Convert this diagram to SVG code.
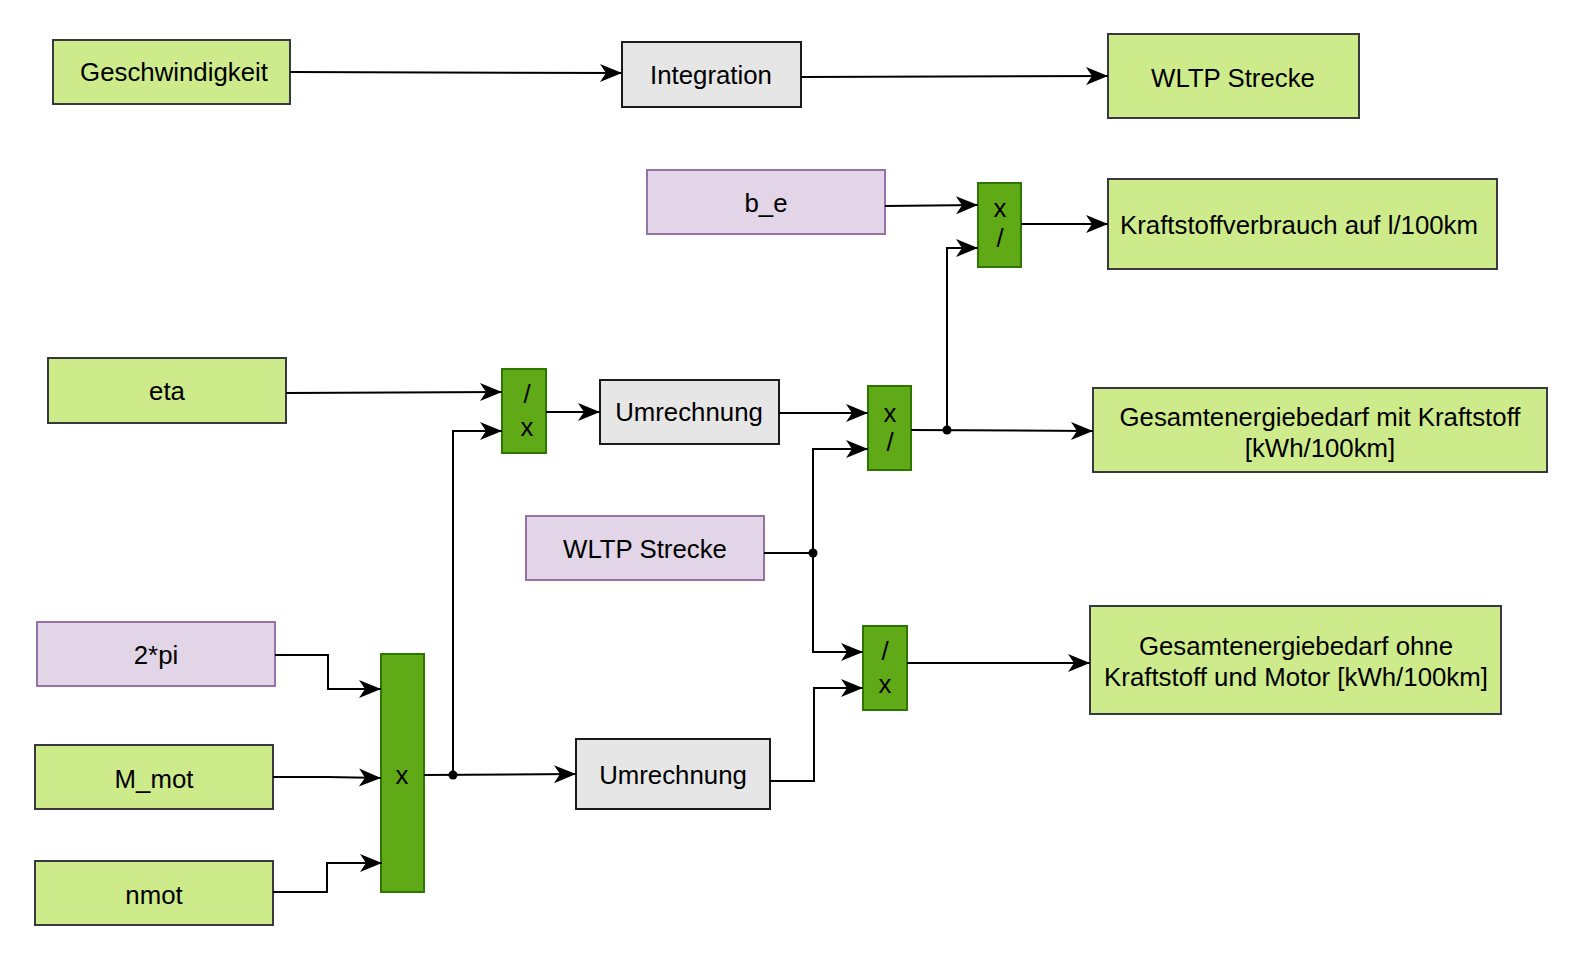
<svg xmlns="http://www.w3.org/2000/svg" width="1586" height="972" viewBox="0 0 1586 972">
<style>
.g{fill:#cdeb8b;stroke:#36393d;stroke-width:2}
.p{fill:#e1d5e7;stroke:#9673a6;stroke-width:2}
.w{fill:#e6e6e6;stroke:#1a1a1a;stroke-width:2}
.k{fill:#60a917;stroke:#2d7600;stroke-width:2}
text{font-family:"Liberation Sans",Arial,sans-serif;font-size:25.8px;fill:#000;text-anchor:middle;dominant-baseline:central}
.c path{fill:none;stroke:#000;stroke-width:2}
</style>
<defs>
<marker id="a" markerUnits="userSpaceOnUse" markerWidth="26" markerHeight="22" refX="23" refY="11" orient="auto">
<path d="M1,2 L23,11 L1,20 L7,11 Z" fill="#000"/>
</marker>
</defs>
<rect width="1586" height="972" fill="#fff"/>
<g id="geschwindigkeit"><rect class="g" x="53" y="40" width="237" height="64"/><text x="174" y="72">Geschwindigkeit</text></g>
<g id="integration"><rect class="w" x="622" y="42" width="179" height="65"/><text x="711" y="75">Integration</text></g>
<g id="wltp1"><rect class="g" x="1108" y="34" width="251" height="84"/><text x="1233" y="78">WLTP Strecke</text></g>
<g id="be"><rect class="p" x="647" y="170" width="238" height="64"/><text x="766" y="203">b_e</text></g>
<g id="op1"><rect class="k" x="978" y="183" width="43" height="84"/><text x="1000" y="208">x</text><text x="1000" y="238">/</text></g>
<g id="kraftstoff"><rect class="g" x="1108" y="179" width="389" height="90"/><text x="1299" y="225">Kraftstoffverbrauch auf l/100km</text></g>
<g id="eta"><rect class="g" x="48" y="358" width="238" height="65"/><text x="167" y="391">eta</text></g>
<g id="op2"><rect class="k" x="502" y="369" width="44" height="84"/><text x="527" y="394">/</text><text x="527" y="427">x</text></g>
<g id="umrechnung1"><rect class="w" x="600" y="380" width="179" height="64"/><text x="689" y="412">Umrechnung</text></g>
<g id="op3"><rect class="k" x="868" y="386" width="43" height="84"/><text x="890" y="413">x</text><text x="890" y="442">/</text></g>
<g id="gesamtmit"><rect class="g" x="1093" y="388" width="454" height="84"/><text x="1320" y="417">Gesamtenergiebedarf mit Kraftstoff</text><text x="1320" y="448">[kWh/100km]</text></g>
<g id="wltp2"><rect class="p" x="526" y="516" width="238" height="64"/><text x="645" y="549">WLTP Strecke</text></g>
<g id="op4"><rect class="k" x="863" y="626" width="44" height="84"/><text x="885" y="651">/</text><text x="885" y="684">x</text></g>
<g id="gesamtohne"><rect class="g" x="1090" y="606" width="411" height="108"/><text x="1296" y="646">Gesamtenergiebedarf ohne</text><text x="1296" y="677">Kraftstoff und Motor [kWh/100km]</text></g>
<g id="twopi"><rect class="p" x="37" y="622" width="238" height="64"/><text x="156" y="655">2*pi</text></g>
<g id="mmot"><rect class="g" x="35" y="745" width="238" height="64"/><text x="154" y="779">M_mot</text></g>
<g id="nmot"><rect class="g" x="35" y="861" width="238" height="64"/><text x="154" y="895">nmot</text></g>
<g id="op5"><rect class="k" x="381" y="654" width="43" height="238"/><text x="402" y="775">x</text></g>
<g id="umrechnung2"><rect class="w" x="576" y="739" width="194" height="70"/><text x="673" y="775">Umrechnung</text></g>
<g id="connectors" class="c">
<path d="M290,72 L622,73" marker-end="url(#a)"/>
<path d="M801,77 L1108,76" marker-end="url(#a)"/>
<path d="M885,206 L978,205" marker-end="url(#a)"/>
<path d="M1021,224 L1108,224" marker-end="url(#a)"/>
<path d="M286,393 L502,392" marker-end="url(#a)"/>
<path d="M546,412 L600,412" marker-end="url(#a)"/>
<path d="M779,413 L868,413" marker-end="url(#a)"/>
<path d="M911,430 L1093,431" marker-end="url(#a)"/>
<path d="M947,430 L947,248 L978,248" marker-end="url(#a)"/>
<path d="M764,553 L813,553 L813,449 L868,449" marker-end="url(#a)"/>
<path d="M813,553 L813,652 L863,652" marker-end="url(#a)"/>
<path d="M770,781 L814,781 L814,688 L863,688" marker-end="url(#a)"/>
<path d="M907,663 L1090,663" marker-end="url(#a)"/>
<path d="M275,655 L328,655 L328,689 L381,689" marker-end="url(#a)"/>
<path d="M273,777 L328,777 L381,778" marker-end="url(#a)"/>
<path d="M273,892 L327,892 L327,863 L382,863" marker-end="url(#a)"/>
<path d="M424,775 L576,774" marker-end="url(#a)"/>
<path d="M453,775 L453,431 L502,431" marker-end="url(#a)"/>
<circle cx="947" cy="430" r="4.5" fill="#000"/>
<circle cx="813" cy="553" r="4.5" fill="#000"/>
<circle cx="453" cy="775" r="4.5" fill="#000"/>
</g>
</svg>
